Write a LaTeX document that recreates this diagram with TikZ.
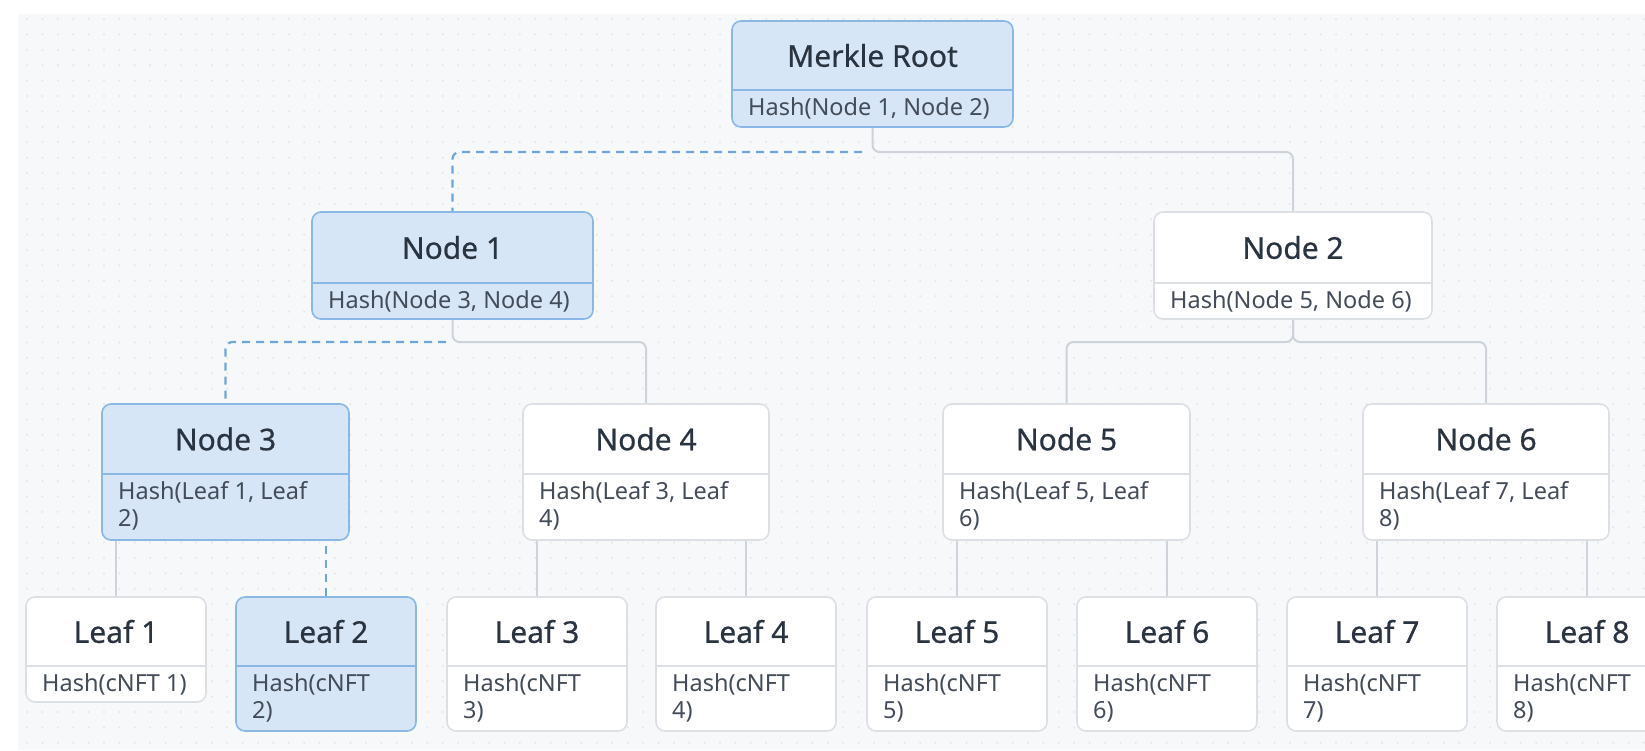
\documentclass[tikz,border=0pt]{standalone}
\usepackage{fontspec}
\setmainfont{Noto Sans}
\newfontfamily\titfont[FakeBold=0.6]{Noto Sans}
\usetikzlibrary{calc}
\definecolor{bgc}{HTML}{F7F8FA}
\definecolor{dotc}{HTML}{E3E6EA}
\definecolor{hlfill}{HTML}{D6E6F6}
\definecolor{hlline}{HTML}{8AB7E5}
\definecolor{plline}{HTML}{DCE0E5}
\definecolor{edgec}{HTML}{CDD3DA}
\definecolor{dashc}{HTML}{6CA6DD}
\definecolor{titc}{HTML}{2A3441}
\definecolor{subc}{HTML}{434C58}
\pgfdeclarelayer{bg}
\pgfdeclarelayer{edges}
\pgfsetlayers{bg,edges,main}
\tikzset{
  hlbox/.style={draw=hlline, fill=hlfill, line width=1.6pt},
  plbox/.style={draw=plline, fill=white, line width=1.6pt},
  hlbox-div/.style={draw=hlline, line width=1.6pt},
  plbox-div/.style={draw=plline, line width=1.4pt},
  titf/.style={text=titc, font=\titfont\fontsize{30}{35}\selectfont, inner sep=0pt},
  subf/.style={text=subc, font=\fontsize{23.5}{28}\selectfont, inner sep=0pt, anchor=base west},
  edge/.style={draw=edgec, line width=2pt, rounded corners=7pt},
  dashe/.style={draw=dashc, line width=2.2pt, dash pattern=on 8pt off 6pt, rounded corners=7pt},
}
% name, style, x1, y1, x2, ydiv, y2, title, first subtitle line
\newcommand\mkbox[9]{%
  \node[#2, rounded corners=9pt, minimum width={#5-#3}, minimum height={#7-#4},
        inner sep=0pt, outer sep=0pt, anchor=north west] (#1) at (#3,#4) {};
  \draw[#2-div] (#3,#6) -- (#5,#6);
  \node[titf] (#1t) at ({(#3+#5)/2},{(#4+#6)/2}) {#8};
  \node[subf] (#1s) at ({#3+16},{#6+25}) {#9};
}
% name, x1, ydiv, second subtitle line
\newcommand\subtwo[4]{%
  \node[subf] (#1s2) at ({#2+16},{#3+52}) {#4};
}
\begin{document}
\begin{tikzpicture}[x=1pt,y=-1pt]
\useasboundingbox (0,0) rectangle (1645,750);
\begin{pgfonlayer}{bg}
  \fill[bgc] (18,14) rectangle (1645,750);
  \foreach \i in {0,...,105} {
    \foreach \j in {0,...,47} {
      \fill[dotc] ({27+\i*15.4},{19+\j*15.4}) circle (1.1);
    }
  }
\end{pgfonlayer}

% boxes
\mkbox{root}{hlbox}{732}{21}{1013}{90}{127}{Merkle Root}{Hash(Node 1, Node 2)}
\mkbox{n1}{hlbox}{312}{212}{593}{283}{319}{Node 1}{Hash(Node 3, Node 4)}
\mkbox{n2}{plbox}{1154}{212}{1432}{283}{319}{Node 2}{Hash(Node 5, Node 6)}
\mkbox{n3}{hlbox}{102}{404}{349}{474}{540}{Node 3}{Hash(Leaf 1, Leaf}
\subtwo{n3}{102}{474}{2)}
\mkbox{n4}{plbox}{523}{404}{769}{474}{540}{Node 4}{Hash(Leaf 3, Leaf}
\subtwo{n4}{523}{474}{4)}
\mkbox{n5}{plbox}{943}{404}{1190}{474}{540}{Node 5}{Hash(Leaf 5, Leaf}
\subtwo{n5}{943}{474}{6)}
\mkbox{n6}{plbox}{1363}{404}{1609}{474}{540}{Node 6}{Hash(Leaf 7, Leaf}
\subtwo{n6}{1363}{474}{8)}

\mkbox{l1}{plbox}{26}{597}{206}{666}{702}{Leaf 1}{Hash(cNFT 1)}
\mkbox{l2}{hlbox}{236}{597}{416}{666}{731}{Leaf 2}{Hash(cNFT}
\subtwo{l2}{236}{666}{2)}
\mkbox{l3}{plbox}{447}{597}{627}{666}{731}{Leaf 3}{Hash(cNFT}
\subtwo{l3}{447}{666}{3)}
\mkbox{l4}{plbox}{656}{597}{836}{666}{731}{Leaf 4}{Hash(cNFT}
\subtwo{l4}{656}{666}{4)}
\mkbox{l5}{plbox}{867}{597}{1047}{666}{731}{Leaf 5}{Hash(cNFT}
\subtwo{l5}{867}{666}{5)}
\mkbox{l6}{plbox}{1077}{597}{1257}{666}{731}{Leaf 6}{Hash(cNFT}
\subtwo{l6}{1077}{666}{6)}
\mkbox{l7}{plbox}{1287}{597}{1467}{666}{731}{Leaf 7}{Hash(cNFT}
\subtwo{l7}{1287}{666}{7)}
\mkbox{l8}{plbox}{1497}{597}{1677}{666}{731}{Leaf 8}{Hash(cNFT}
\subtwo{l8}{1497}{666}{8)}

% connectors
\coordinate (j0) at (862,152);
\coordinate (j1) at (446,342);
\begin{pgfonlayer}{edges}
  \draw[dashe] (j0) -| (n1.north);
  \draw[edge] (root.south) -- ++(0,25) -| (n2.north);
  \draw[dashe] (j1) -| (n3.north);
  \draw[edge] (n1.south) -- ++(0,23) -| (n4.north);
  \draw[edge] (n2.south) -- ++(0,23) -| (n5.north);
  \draw[edge] (n2.south) -- ++(0,23) -| (n6.north);
  \draw[edge] (n3.south -| l1.north) -- (l1.north);
  \draw[dashe] ($(n3.south -| l2.north)+(0,6)$) -- (l2.north);
  \draw[edge] (n4.south -| l3.north) -- (l3.north);
  \draw[edge] (n4.south -| l4.north) -- (l4.north);
  \draw[edge] (n5.south -| l5.north) -- (l5.north);
  \draw[edge] (n5.south -| l6.north) -- (l6.north);
  \draw[edge] (n6.south -| l7.north) -- (l7.north);
  \draw[edge] (n6.south -| l8.north) -- (l8.north);
\end{pgfonlayer}
\end{tikzpicture}
\end{document}
